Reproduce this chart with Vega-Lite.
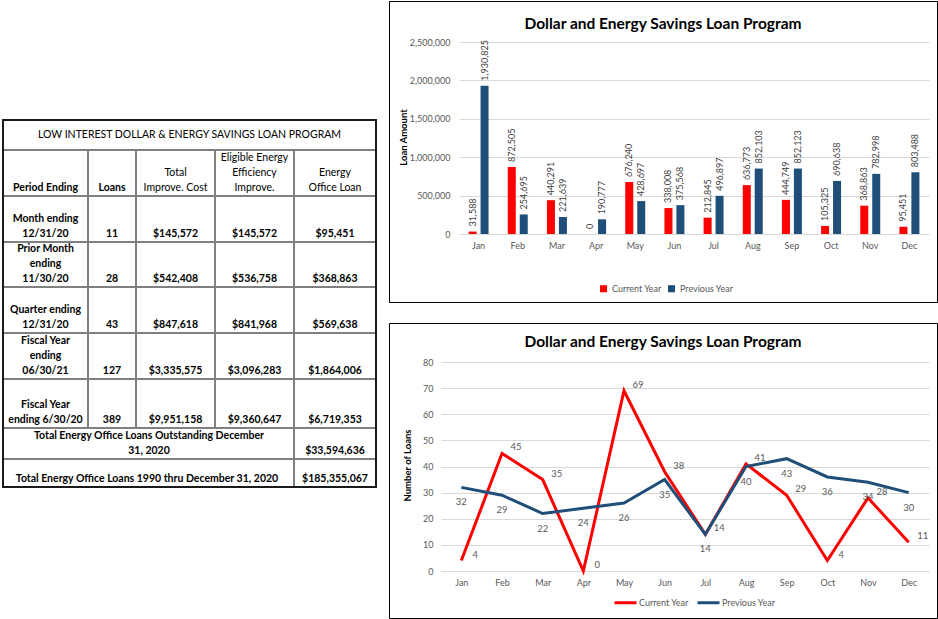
{
  "$schema": "https://vega.github.io/schema/vega-lite/v6.json",
  "padding": {"left": 0, "top": 0, "right": 0, "bottom": 0},
  "spacing": 0,
  "config": {"font": "Lato", "view": {"stroke": null}},
  "datasets": {
    "amounts": [
      {"month": "Jan", "series": "Current Year", "amount": 31588},
      {"month": "Feb", "series": "Current Year", "amount": 872505},
      {"month": "Mar", "series": "Current Year", "amount": 440291},
      {"month": "Apr", "series": "Current Year", "amount": 0},
      {"month": "May", "series": "Current Year", "amount": 676240},
      {"month": "Jun", "series": "Current Year", "amount": 338008},
      {"month": "Jul", "series": "Current Year", "amount": 212845},
      {"month": "Aug", "series": "Current Year", "amount": 636773},
      {"month": "Sep", "series": "Current Year", "amount": 444749},
      {"month": "Oct", "series": "Current Year", "amount": 105325},
      {"month": "Nov", "series": "Current Year", "amount": 368863},
      {"month": "Dec", "series": "Current Year", "amount": 95451},
      {"month": "Jan", "series": "Previous Year", "amount": 1930825},
      {"month": "Feb", "series": "Previous Year", "amount": 254695},
      {"month": "Mar", "series": "Previous Year", "amount": 221639},
      {"month": "Apr", "series": "Previous Year", "amount": 190777},
      {"month": "May", "series": "Previous Year", "amount": 428697},
      {"month": "Jun", "series": "Previous Year", "amount": 375568},
      {"month": "Jul", "series": "Previous Year", "amount": 496897},
      {"month": "Aug", "series": "Previous Year", "amount": 852103},
      {"month": "Sep", "series": "Previous Year", "amount": 852123},
      {"month": "Oct", "series": "Previous Year", "amount": 690638},
      {"month": "Nov", "series": "Previous Year", "amount": 782998},
      {"month": "Dec", "series": "Previous Year", "amount": 803488}
    ],
    "counts": [
      {"month": "Jan", "series": "Current Year", "n": 4},
      {"month": "Feb", "series": "Current Year", "n": 45},
      {"month": "Mar", "series": "Current Year", "n": 35},
      {"month": "Apr", "series": "Current Year", "n": 0},
      {"month": "May", "series": "Current Year", "n": 69},
      {"month": "Jun", "series": "Current Year", "n": 38},
      {"month": "Jul", "series": "Current Year", "n": 14},
      {"month": "Aug", "series": "Current Year", "n": 41},
      {"month": "Sep", "series": "Current Year", "n": 29},
      {"month": "Oct", "series": "Current Year", "n": 4},
      {"month": "Nov", "series": "Current Year", "n": 28},
      {"month": "Dec", "series": "Current Year", "n": 11},
      {"month": "Jan", "series": "Previous Year", "n": 32},
      {"month": "Feb", "series": "Previous Year", "n": 29},
      {"month": "Mar", "series": "Previous Year", "n": 22},
      {"month": "Apr", "series": "Previous Year", "n": 24},
      {"month": "May", "series": "Previous Year", "n": 26},
      {"month": "Jun", "series": "Previous Year", "n": 35},
      {"month": "Jul", "series": "Previous Year", "n": 14},
      {"month": "Aug", "series": "Previous Year", "n": 40},
      {"month": "Sep", "series": "Previous Year", "n": 43},
      {"month": "Oct", "series": "Previous Year", "n": 36},
      {"month": "Nov", "series": "Previous Year", "n": 34},
      {"month": "Dec", "series": "Previous Year", "n": 30}
    ],
    "cells": [
      {"r0": 0, "r1": 1, "c0": 0, "c1": 5, "text": "LOW INTEREST DOLLAR & ENERGY SAVINGS LOAN PROGRAM"},
      {"r0": 1, "r1": 2, "c0": 0, "c1": 1, "text": "Period Ending"},
      {"r0": 1, "r1": 2, "c0": 1, "c1": 2, "text": "Loans"},
      {"r0": 1, "r1": 2, "c0": 2, "c1": 3, "text": "Total\nImprove. Cost"},
      {"r0": 1, "r1": 2, "c0": 3, "c1": 4, "text": "Eligible Energy\nEfficiency\nImprove."},
      {"r0": 1, "r1": 2, "c0": 4, "c1": 5, "text": "Energy\nOffice Loan"},
      {"r0": 2, "r1": 3, "c0": 0, "c1": 1, "text": "Month  ending\n12/31/20"},
      {"r0": 2, "r1": 3, "c0": 1, "c1": 2, "text": "11"},
      {"r0": 2, "r1": 3, "c0": 2, "c1": 3, "text": "$145,572"},
      {"r0": 2, "r1": 3, "c0": 3, "c1": 4, "text": "$145,572"},
      {"r0": 2, "r1": 3, "c0": 4, "c1": 5, "text": "$95,451"},
      {"r0": 3, "r1": 4, "c0": 0, "c1": 1, "text": "Prior Month\nending\n11/30/20"},
      {"r0": 3, "r1": 4, "c0": 1, "c1": 2, "text": "28"},
      {"r0": 3, "r1": 4, "c0": 2, "c1": 3, "text": "$542,408"},
      {"r0": 3, "r1": 4, "c0": 3, "c1": 4, "text": "$536,758"},
      {"r0": 3, "r1": 4, "c0": 4, "c1": 5, "text": "$368,863"},
      {"r0": 4, "r1": 5, "c0": 0, "c1": 1, "text": "Quarter ending\n12/31/20"},
      {"r0": 4, "r1": 5, "c0": 1, "c1": 2, "text": "43"},
      {"r0": 4, "r1": 5, "c0": 2, "c1": 3, "text": "$847,618"},
      {"r0": 4, "r1": 5, "c0": 3, "c1": 4, "text": "$841,968"},
      {"r0": 4, "r1": 5, "c0": 4, "c1": 5, "text": "$569,638"},
      {"r0": 5, "r1": 6, "c0": 0, "c1": 1, "text": "Fiscal Year\nending\n06/30/21"},
      {"r0": 5, "r1": 6, "c0": 1, "c1": 2, "text": "127"},
      {"r0": 5, "r1": 6, "c0": 2, "c1": 3, "text": "$3,335,575"},
      {"r0": 5, "r1": 6, "c0": 3, "c1": 4, "text": "$3,096,283"},
      {"r0": 5, "r1": 6, "c0": 4, "c1": 5, "text": "$1,864,006"},
      {"r0": 6, "r1": 7, "c0": 0, "c1": 1, "text": "Fiscal Year\nending  6/30/20"},
      {"r0": 6, "r1": 7, "c0": 1, "c1": 2, "text": "389"},
      {"r0": 6, "r1": 7, "c0": 2, "c1": 3, "text": "$9,951,158"},
      {"r0": 6, "r1": 7, "c0": 3, "c1": 4, "text": "$9,360,647"},
      {"r0": 6, "r1": 7, "c0": 4, "c1": 5, "text": "$6,719,353"},
      {"r0": 7, "r1": 8, "c0": 0, "c1": 4, "text": "Total Energy Office Loans  Outstanding  December\n31, 2020"},
      {"r0": 7, "r1": 8, "c0": 4, "c1": 5, "text": "$33,594,636"},
      {"r0": 8, "r1": 9, "c0": 0, "c1": 4, "text": "Total Energy Office Loans  1990 thru  December 31, 2020"},
      {"r0": 8, "r1": 9, "c0": 4, "c1": 5, "text": "$185,355,067"}
    ]
  },
  "hconcat": [
    {
      "width": 388,
      "height": 615,
      "data": {"name": "cells"},
      "transform": [
        {"calculate": "(datum.c0 + datum.c1) / 2", "as": "cm"},
        {"calculate": "length(split(datum.text, '\\n'))", "as": "nl"}
      ],
      "encoding": {
        "x": {"field": "c0", "type": "quantitative", "axis": null,
              "scale": {"domain": [0, 1, 2, 3, 4, 5], "range": [3, 88, 136, 215, 294, 376], "nice": false, "zero": false}},
        "y": {"field": "r0", "type": "quantitative", "axis": null,
              "scale": {"domain": [0, 1, 2, 3, 4, 5, 6, 7, 8, 9], "range": [119, 149, 195, 241, 286, 332, 378, 427, 458, 486], "nice": false, "zero": false}}
      },
      "layer": [
        {
          "mark": {"type": "rect", "fill": "transparent", "stroke": "#808080", "strokeWidth": 2},
          "encoding": {"x2": {"field": "c1"}, "y2": {"field": "r1"}}
        },
        {
          "mark": {"type": "rect", "fill": "transparent", "stroke": "#1a1a1a", "strokeWidth": 2},
          "encoding": {"x": {"datum": 0, "type": "quantitative"}, "x2": {"datum": 5}, "y": {"datum": 0, "type": "quantitative"}, "y2": {"datum": 9}}
        },
        {
          "transform": [{"filter": "datum.r0 == 0"}],
          "mark": {"type": "text", "fontSize": 10.5, "align": "center", "baseline": "middle", "dx": 14, "color": "#000000"},
          "encoding": {"x": {"field": "cm", "type": "quantitative"}, "y": {"datum": 0.5, "type": "quantitative"}, "text": {"field": "text"}}
        },
        {
          "transform": [{"filter": "datum.r0 == 1 && datum.c0 < 2"}],
          "mark": {"type": "text", "fontSize": 10.5, "fontWeight": "bold", "align": "center", "baseline": "bottom", "dy": -3, "color": "#000000"},
          "encoding": {"x": {"field": "cm", "type": "quantitative"}, "y": {"field": "r1", "type": "quantitative"}, "text": {"field": "text"}}
        },
        {
          "transform": [{"filter": "datum.r0 == 1 && datum.c0 >= 2 && datum.nl == 2"}],
          "mark": {"type": "text", "fontSize": 10.5, "align": "center", "baseline": "bottom", "dy": -18, "lineBreak": "\n", "lineHeight": 15, "color": "#000000"},
          "encoding": {"x": {"field": "cm", "type": "quantitative"}, "y": {"field": "r1", "type": "quantitative"}, "text": {"field": "text"}}
        },
        {
          "transform": [{"filter": "datum.r0 == 1 && datum.c0 >= 2 && datum.nl == 3"}],
          "mark": {"type": "text", "fontSize": 10.5, "align": "center", "baseline": "bottom", "dy": -33, "lineBreak": "\n", "lineHeight": 15, "color": "#000000"},
          "encoding": {"x": {"field": "cm", "type": "quantitative"}, "y": {"field": "r1", "type": "quantitative"}, "text": {"field": "text"}}
        },
        {
          "transform": [{"filter": "datum.r0 >= 2 && datum.c1 - datum.c0 == 1 && datum.nl == 1"}],
          "mark": {"type": "text", "fontSize": 10.5, "fontWeight": "bold", "align": "center", "baseline": "bottom", "dy": -3, "color": "#000000"},
          "encoding": {"x": {"field": "cm", "type": "quantitative"}, "y": {"field": "r1", "type": "quantitative"}, "text": {"field": "text"}}
        },
        {
          "transform": [{"filter": "datum.r0 >= 2 && datum.c1 - datum.c0 == 1 && datum.nl == 2"}],
          "mark": {"type": "text", "fontSize": 10.5, "fontWeight": "bold", "align": "center", "baseline": "bottom", "dy": -18, "lineBreak": "\n", "lineHeight": 15, "color": "#000000"},
          "encoding": {"x": {"field": "cm", "type": "quantitative"}, "y": {"field": "r1", "type": "quantitative"}, "text": {"field": "text"}}
        },
        {
          "transform": [{"filter": "datum.r0 >= 2 && datum.c1 - datum.c0 == 1 && datum.nl == 3"}],
          "mark": {"type": "text", "fontSize": 10.5, "fontWeight": "bold", "align": "center", "baseline": "bottom", "dy": -33, "lineBreak": "\n", "lineHeight": 15, "color": "#000000"},
          "encoding": {"x": {"field": "cm", "type": "quantitative"}, "y": {"field": "r1", "type": "quantitative"}, "text": {"field": "text"}}
        },
        {
          "transform": [{"filter": "datum.c1 - datum.c0 == 4 && datum.nl == 1"}],
          "mark": {"type": "text", "fontSize": 10.5, "fontWeight": "bold", "align": "center", "baseline": "bottom", "dy": -3, "dx": 11, "color": "#000000"},
          "encoding": {"x": {"field": "cm", "type": "quantitative"}, "y": {"field": "r1", "type": "quantitative"}, "text": {"field": "text"}}
        },
        {
          "transform": [{"filter": "datum.c1 - datum.c0 == 4 && datum.nl == 2"}],
          "mark": {"type": "text", "fontSize": 10.5, "fontWeight": "bold", "align": "center", "baseline": "bottom", "dy": -18, "dx": 13, "lineBreak": "\n", "lineHeight": 15, "color": "#000000"},
          "encoding": {"x": {"field": "cm", "type": "quantitative"}, "y": {"field": "r1", "type": "quantitative"}, "text": {"field": "text"}}
        }
      ]
    },
    {
      "spacing": 19,
      "resolve": {"scale": {"color": "independent"}, "legend": {"color": "independent"}},
      "vconcat": [
        {
          "width": 548,
          "height": 301,
          "view": {"stroke": "#000000", "strokeWidth": 1},
          "title": {"text": "Dollar and Energy Savings Loan Program", "fontSize": 15.5, "fontWeight": "bold", "color": "#000000", "anchor": "middle", "frame": "group", "offset": -31},
          "data": {"name": "amounts"},
          "encoding": {
            "x": {"field": "month", "type": "nominal", "sort": ["Jan", "Feb", "Mar", "Apr", "May", "Jun", "Jul", "Aug", "Sep", "Oct", "Nov", "Dec"],
                  "scale": {"range": [70, 540], "paddingInner": 0.49, "paddingOuter": 0.245},
                  "axis": {"title": null, "offset": -68, "ticks": false, "domain": false, "labelPadding": 7, "labelFontSize": 9, "labelColor": "#595959", "labelAngle": 0}},
            "xOffset": {"field": "series", "type": "nominal", "sort": ["Current Year", "Previous Year"], "scale": {"paddingInner": 0.33, "paddingOuter": 0}},
            "y": {"field": "amount", "type": "quantitative",
                  "scale": {"domain": [0, 2500000], "range": [233, 41], "nice": false},
                  "axis": {"title": "Loan Amount", "offset": -70, "values": [0, 500000, 1000000, 1500000, 2000000, 2500000], "format": ",d", "ticks": false, "domain": false,
                           "labelPadding": 9, "labelFontSize": 9, "labelColor": "#595959", "gridColor": "#D9D9D9", "gridWidth": 1,
                           "titleFontSize": 9.5, "titleFontWeight": "bold", "titleColor": "#000000", "titleX": -56, "titleY": 136, "titleAngle": 270, "titleAlign": "center", "titleBaseline": "middle"}}
          },
          "layer": [
            {
              "mark": {"type": "bar"},
              "encoding": {
                "color": {"field": "series", "type": "nominal",
                          "scale": {"domain": ["Current Year", "Previous Year"], "range": ["#FF0000", "#1F4E79"]},
                          "legend": {"orient": "none", "legendX": 210, "legendY": 283, "direction": "horizontal", "title": null, "symbolType": "square", "symbolSize": 50, "labelFontSize": 9, "labelColor": "#595959", "columnPadding": 5, "labelOffset": 4}}
              }
            },
            {
              "mark": {"type": "text", "angle": 270, "align": "left", "baseline": "middle", "dx": 5, "fontSize": 9, "color": "#404040"},
              "encoding": {"text": {"field": "amount", "type": "quantitative", "format": ","}}
            }
          ]
        },
        {
          "width": 548,
          "height": 295,
          "view": {"stroke": "#000000", "strokeWidth": 1},
          "title": {"text": "Dollar and Energy Savings Loan Program", "fontSize": 15.5, "fontWeight": "bold", "color": "#000000", "anchor": "middle", "frame": "group", "offset": -27},
          "data": {"name": "counts"},
          "encoding": {
            "x": {"field": "month", "type": "nominal", "sort": ["Jan", "Feb", "Mar", "Apr", "May", "Jun", "Jul", "Aug", "Sep", "Oct", "Nov", "Dec"],
                  "scale": {"type": "point", "range": [52, 540], "padding": 0.5},
                  "axis": {"title": null, "offset": -47, "ticks": false, "domain": false, "labelPadding": 7, "labelFontSize": 9, "labelColor": "#595959", "labelAngle": 0}},
            "y": {"field": "n", "type": "quantitative",
                  "scale": {"domain": [0, 80], "range": [248, 39], "nice": false},
                  "axis": {"title": "Number of Loans", "offset": -52, "values": [0, 10, 20, 30, 40, 50, 60, 70, 80], "ticks": false, "domain": false,
                           "labelPadding": 8, "labelFontSize": 9, "labelColor": "#595959", "gridColor": "#D9D9D9", "gridWidth": 1,
                           "titleFontSize": 9.5, "titleFontWeight": "bold", "titleColor": "#000000", "titleX": -34, "titleY": 142, "titleAngle": 270, "titleAlign": "center", "titleBaseline": "middle"}}
          },
          "layer": [
            {
              "mark": {"type": "line", "strokeWidth": 3},
              "encoding": {
                "color": {"field": "series", "type": "nominal",
                          "scale": {"domain": ["Current Year", "Previous Year"], "range": ["#FF0000", "#1F4E79"]},
                          "legend": {"orient": "none", "legendX": 224, "legendY": 267, "direction": "horizontal", "title": null, "symbolType": "stroke", "symbolSize": 484, "symbolStrokeWidth": 3, "labelFontSize": 9, "labelColor": "#595959", "columnPadding": 2, "labelOffset": 1}}
              }
            },
            {
              "transform": [{"filter": "datum.series == 'Current Year'"}],
              "mark": {"type": "text", "align": "center", "baseline": "middle", "dx": 14, "dy": -6, "fontSize": 9.5, "color": "#595959"},
              "encoding": {"text": {"field": "n", "type": "quantitative"}}
            },
            {
              "transform": [{"filter": "datum.series == 'Previous Year'"}],
              "mark": {"type": "text", "align": "center", "baseline": "middle", "dy": 15, "fontSize": 9.5, "color": "#595959"},
              "encoding": {"text": {"field": "n", "type": "quantitative"}}
            }
          ]
        }
      ]
    }
  ]
}
